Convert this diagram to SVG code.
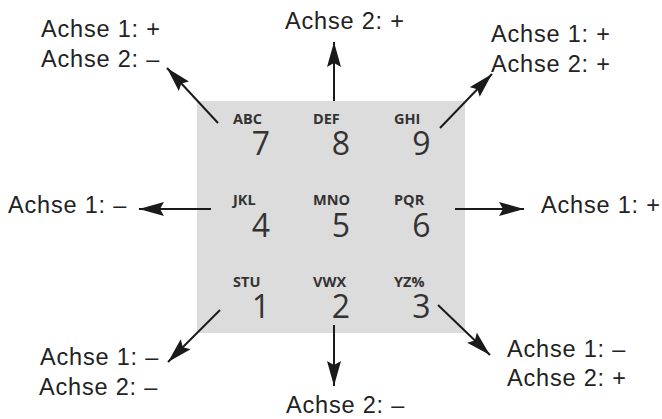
<svg xmlns="http://www.w3.org/2000/svg" width="662" height="419" viewBox="0 0 662 419">
  <defs>
    <marker id="ah" markerUnits="userSpaceOnUse" markerWidth="27" markerHeight="15" refX="25" refY="7.5" orient="auto">
      <path d="M0,0.5 L25,7.5 L0,14.5 L4,7.5 Z" fill="#1a1a1a"/>
    </marker>
    <style>
      .lbl { font-family: "Liberation Sans", Arial, sans-serif; font-size: 23.5px; letter-spacing: 0.8px; fill: #222; }
      .key { font-family: "Open Sans", "Noto Sans", sans-serif; font-size: 14.5px; font-weight: bold; fill: #333; }
      .dig { font-family: "Open Sans", "Noto Sans", sans-serif; font-size: 32px; fill: #333; text-anchor: middle; }
      .arr { stroke: #1a1a1a; stroke-width: 2; fill: none; marker-end: url(#ah); }
    </style>
  </defs>
  <rect width="662" height="419" fill="#ffffff"/>
  <g id="keypad">
    <rect x="197" y="101" width="268" height="232" fill="#dcdcdc"/>
  </g>
  <g id="key7"><text class="key" x="233" y="124">ABC</text><text class="dig" x="261" y="155">7</text></g>
  <g id="key8"><text class="key" x="313" y="124">DEF</text><text class="dig" x="341" y="155">8</text></g>
  <g id="key9"><text class="key" x="394" y="124">GHI</text><text class="dig" x="421.5" y="155">9</text></g>
  <g id="key4"><text class="key" x="233" y="205">JKL</text><text class="dig" x="261" y="236.5">4</text></g>
  <g id="key5"><text class="key" x="313" y="205">MNO</text><text class="dig" x="341" y="236.5">5</text></g>
  <g id="key6"><text class="key" x="394" y="205">PQR</text><text class="dig" x="421.5" y="236.5">6</text></g>
  <g id="key1"><text class="key" x="233" y="286.5">STU</text><text class="dig" x="261" y="318">1</text></g>
  <g id="key2"><text class="key" x="313" y="286.5">VWX</text><text class="dig" x="341" y="318">2</text></g>
  <g id="key3"><text class="key" x="394" y="286.5">YZ%</text><text class="dig" x="421.5" y="318">3</text></g>
  <g id="connectors">
    <line class="arr" x1="218" y1="123" x2="167" y2="68"/>
    <line class="arr" x1="334" y1="101" x2="334" y2="42"/>
    <line class="arr" x1="440" y1="128" x2="492" y2="74"/>
    <line class="arr" x1="211" y1="209" x2="139" y2="209"/>
    <line class="arr" x1="455" y1="209" x2="524" y2="209"/>
    <line class="arr" x1="220" y1="310" x2="168" y2="362"/>
    <line class="arr" x1="334" y1="325" x2="334" y2="386"/>
    <line class="arr" x1="438" y1="305" x2="490" y2="355"/>
  </g>
  <g id="label-nw"><text class="lbl" x="41" y="37">Achse 1: +</text><text class="lbl" x="41" y="67">Achse 2: –</text></g>
  <g id="label-n"><text class="lbl" x="285" y="29">Achse 2: +</text></g>
  <g id="label-ne"><text class="lbl" x="491" y="42">Achse 1: +</text><text class="lbl" x="491" y="72">Achse 2: +</text></g>
  <g id="label-w"><text class="lbl" x="8" y="213">Achse 1: –</text></g>
  <g id="label-e"><text class="lbl" x="541" y="213">Achse 1: +</text></g>
  <g id="label-sw"><text class="lbl" x="40" y="365">Achse 1: –</text><text class="lbl" x="39" y="395">Achse 2: –</text></g>
  <g id="label-s"><text class="lbl" x="286" y="413">Achse 2: –</text></g>
  <g id="label-se"><text class="lbl" x="507" y="357">Achse 1: –</text><text class="lbl" x="507" y="386">Achse 2: +</text></g>
</svg>
